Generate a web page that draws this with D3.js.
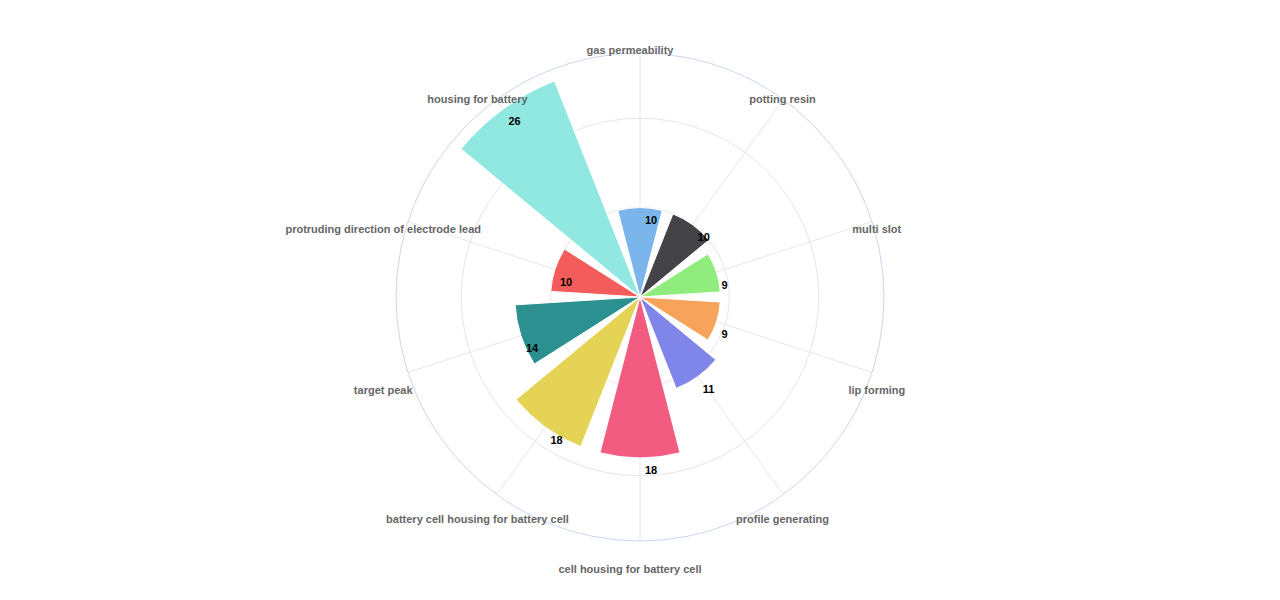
<!DOCTYPE html>
<html>
<head>
<meta charset="utf-8">
<script src="https://cdn.jsdelivr.net/npm/d3@7"></script>
<style>
  body { margin: 0; background: #fff; }
  text { font-family: "Liberation Sans", Arial, Helvetica, sans-serif; }
</style>
</head>
<body>
<div id="chart"></div>
<script>
var WIDTH = 1280;
var HEIGHT = 600;
var CX = 640;
var CY = 297;
var OUTER = 244;

// categories, clockwise from the top
var categories = ['gas permeability', 'potting resin', 'multi slot', 'lip forming',
                  'profile generating', 'cell housing for battery cell',
                  'battery cell housing for battery cell', 'target peak',
                  'protruding direction of electrode lead', 'housing for battery'];
var values = [10, 10, 9, 9, 11, 18, 18, 14, 10, 26];
var colors = ['#7cb5ec', '#434348', '#90ed7d', '#f7a35c', '#8085e9',
              '#f15c80', '#e4d354', '#2b908f', '#f45b5b', '#91e8e1'];
var gridTicks = [10, 20];
var yMax = 27.3;

var svg = d3.select('#chart').append('svg')
            .attr('width', WIDTH)
            .attr('height', HEIGHT);

var g = svg.append('g').attr('transform', 'translate(' + CX + ',' + CY + ')');

var step = 2 * Math.PI / categories.length;
var angle = d3.scalePoint().domain(categories).range([0, 2 * Math.PI - step]);
var r = d3.scaleLinear().domain([0, yMax]).range([0, OUTER]);
var half = step * 0.4;

// grid circles
g.selectAll('circle.grid')
  .data(gridTicks)
  .enter().append('circle')
  .attr('class', 'grid')
  .attr('r', d => r(d))
  .attr('fill', 'none')
  .attr('stroke', '#e6e6e6')
  .attr('stroke-width', 1);

// spokes
g.selectAll('line.spoke')
  .data(categories)
  .enter().append('line')
  .attr('x1', 0).attr('y1', 0)
  .attr('x2', d => OUTER * Math.sin(angle(d)))
  .attr('y2', d => -OUTER * Math.cos(angle(d)))
  .attr('stroke', '#e6e6e6')
  .attr('stroke-width', 1);

// outer circle
g.append('circle')
  .attr('r', OUTER)
  .attr('fill', 'none')
  .attr('stroke', '#ccd6eb')
  .attr('stroke-width', 1);

// bars
var arc = d3.arc()
  .innerRadius(0)
  .outerRadius(d => r(d.value))
  .startAngle(d => angle(d.cat) - half)
  .endAngle(d => angle(d.cat) + half);

var data = categories.map((c, i) => ({cat: c, value: values[i], color: colors[i]}));

g.selectAll('path.bar')
  .data(data)
  .enter().append('path')
  .attr('class', 'bar')
  .attr('d', arc)
  .attr('fill', d => d.color)
  .attr('stroke', '#ffffff')
  .attr('stroke-width', 1);

// value labels
g.selectAll('text.value')
  .data(data)
  .enter().append('text')
  .attr('class', 'value')
  .attr('x', d => r(d.value) * Math.sin(angle(d.cat)) + 5)
  .attr('y', d => -r(d.value) * Math.cos(angle(d.cat)) + 12.5)
  .attr('dy', '0.35em')
  .attr('text-anchor', 'start')
  .attr('font-size', '11px')
  .attr('font-weight', 'bold')
  .attr('fill', '#000000')
  .text(d => d.value);

// category labels
var LABEL_R = OUTER + 15.5;
g.selectAll('text.cat')
  .data(categories)
  .enter().append('text')
  .attr('class', 'cat')
  .attr('x', d => LABEL_R * Math.sin(angle(d)) - 10)
  .attr('y', d => -LABEL_R * Math.cos(angle(d)) + 12.5)
  .attr('dy', '0.35em')
  .attr('text-anchor', 'middle')
  .attr('font-size', '11px')
  .attr('font-weight', 'bold')
  .attr('fill', '#666666')
  .text(d => d);
</script>
</body>
</html>
